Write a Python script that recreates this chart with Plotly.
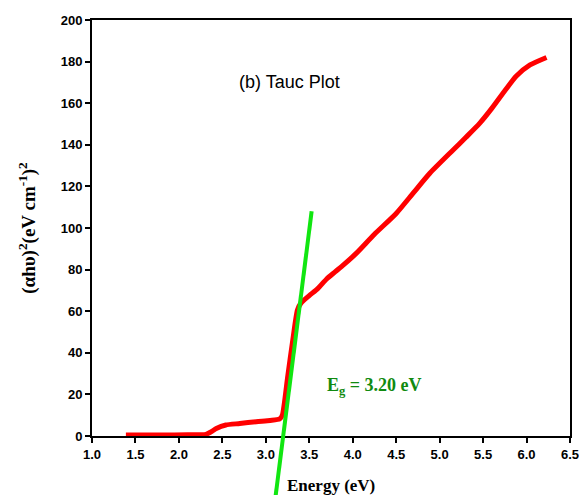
import plotly.graph_objects as go

# Tauc plot data
energy = [1.39, 1.8, 2.1, 2.31, 2.37, 2.43, 2.54, 2.7, 2.89, 3.05, 3.16, 3.19,
          3.25, 3.31, 3.364, 3.406, 3.5, 3.6, 3.7, 3.8, 3.9, 4.04, 4.25, 4.5,
          4.7, 4.887, 5.155, 5.3, 5.46, 5.6, 5.75, 5.88, 6.04, 6.23]
tauc = [0.5, 0.5, 0.6, 0.8, 2.0, 3.6, 5.3, 6.0, 6.9, 7.5, 8.2, 10.0,
        28.0, 46.0, 60.6, 64.0, 67.5, 71.0, 75.5, 79.0, 82.5, 87.8, 97.0, 107.0,
        117.0, 126.3, 137.5, 143.5, 150.3, 157.5, 166.0, 173.0, 178.4, 182.0]

# Linear fit line for the band gap
eg = 3.20
fit_slope = 330.0
fit_y = [-30.0, 108.0]
fit_x = [eg + v / fit_slope for v in fit_y]

x_ticks = [1.0, 1.5, 2.0, 2.5, 3.0, 3.5, 4.0, 4.5, 5.0, 5.5, 6.0, 6.5]
y_ticks = [0, 20, 40, 60, 80, 100, 120, 140, 160, 180, 200]

# page has an 8px body margin, so the figure is 8px smaller than the window
W, H = 579, 487
m_l, m_r, m_t, m_b = 84, 17, 12, 0
plot_bottom_px = 428
dom0 = (H - plot_bottom_px) / (H - m_t - m_b)
y_range = [0, 200]
y2_low = -y_range[1] * dom0 / (1 - dom0)

fig = go.Figure()
fig.add_trace(go.Scatter(
    x=energy, y=tauc, mode="lines",
    line=dict(color="#ff0000", width=5, shape="spline", smoothing=0.6),
    showlegend=False, hoverinfo="skip"))
fig.add_trace(go.Scatter(
    x=fit_x, y=fit_y, mode="lines", xaxis="x2", yaxis="y2",
    line=dict(color="#11e611", width=4),
    showlegend=False, hoverinfo="skip"))

axis_font = dict(family="Liberation Sans, Arial", size=13, color="black",
                 weight="bold")
title_font = dict(family="Liberation Serif, Times New Roman", size=17,
                  color="black")

fig.update_layout(
    width=W, height=H,
    margin=dict(l=m_l, r=m_r, t=m_t, b=m_b, autoexpand=False),
    paper_bgcolor="white", plot_bgcolor="rgba(0,0,0,0)",
    xaxis=dict(range=[1.0, 6.5], tickvals=x_ticks,
               ticktext=[f"{v:.1f}" for v in x_ticks],
               showgrid=False, zeroline=False, showline=True, linecolor="black",
               linewidth=2, mirror=True, ticks="outside", ticklen=5, tickwidth=2,
               tickcolor="black", tickfont=axis_font, automargin=False,
               anchor="y"),
    yaxis=dict(range=y_range, domain=[dom0, 1], tickvals=y_ticks,
               showgrid=False, zeroline=False, showline=True, linecolor="black",
               linewidth=2, mirror=True, ticks="outside", ticklen=5, tickwidth=2,
               tickcolor="black", tickfont=axis_font, automargin=False,
               title=dict(text="<b>(αhυ)<sup>2</sup>(eV cm<sup>-1</sup>)<sup>2</sup></b>",
                          font=dict(family="Liberation Serif, Times New Roman",
                                    size=19, color="black"),
                          standoff=20)),
    xaxis2=dict(matches="x", overlaying="x", visible=False, anchor="y2"),
    yaxis2=dict(range=[y2_low, y_range[1]], domain=[0, 1], visible=False,
                anchor="x2"),
    annotations=[
        dict(x=0.5, y=(H - 477) / (H - m_t), xref="paper", yref="paper",
             text="<b>Energy (eV)</b>", showarrow=False, font=title_font,
             xanchor="center", yanchor="middle"),
        dict(x=2.665, y=170, xref="x", yref="y", text="(b) Tauc Plot",
             showarrow=False, xanchor="left", yanchor="middle",
             font=dict(family="Liberation Sans, Arial", size=18, color="black")),
        dict(x=3.68, y=24, xref="x", yref="y",
             text="<b>E<sub>g</sub> = 3.20 eV</b>", showarrow=False,
             xanchor="left", yanchor="middle",
             font=dict(family="Liberation Serif, Times New Roman", size=18,
                       color="#108a10")),
    ],
)

fig.write_html("out.html")
